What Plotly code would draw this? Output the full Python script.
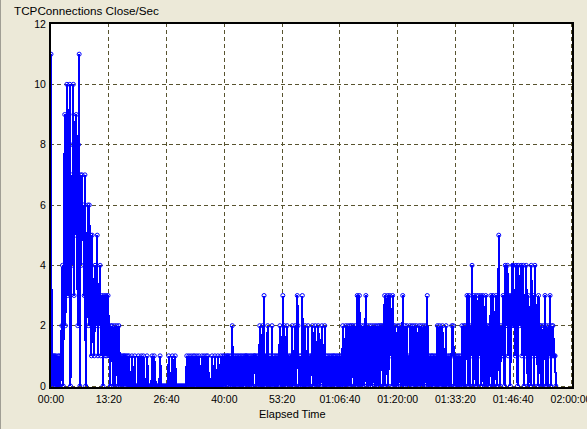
import plotly.graph_objects as go

# sample interval (seconds) between readings
INTERVAL = 10

# TCPConnections Close/Sec readings, one list per 13:20 block (80 readings each)
seg_a = [11,
         0, 1, 0, 1, 1, 0, 1, 0, 0, 1, 0, 1, 0, 1,
         2, 4, 0, 3, 9, 2, 5, 10, 3, 6, 9, 10, 0, 7, 4, 8, 10, 3, 8, 5,
         9, 6, 2, 8, 11, 0, 7, 4, 7, 5, 6, 3, 7, 0, 5, 4, 6, 2, 6, 4, 5,
         1, 5, 2, 3, 1, 4, 2, 3, 5, 1, 3, 2, 4, 1, 3, 2, 0, 3, 2, 1, 3, 1, 2, 3]
seg_b = [2, 1, 0, 2, 1, 2, 0, 1, 2, 0, 1, 2, 1, 0, 2, 1, 0,
         1, 0, 1, 0, 1, 1, 0, 1, 0, 1, 0, 1, 0,
         0, 0, 1, 0, 0, 0, 1, 0, 0, 0, 0, 1, 0, 0, 0, 1, 0, 0, 1, 0,
         0, 0, 0, 1, 0, 0, 0, 0, 0, 0, 1, 0, 0, 1, 0, 0, 0, 0, 0, 0,
         0, 1, 0, 0, 0, 0, 0, 0, 0, 0]
seg_c = [0, 0, 0, 1, 0, 0, 0, 0, 1, 0, 0, 0, 1, 0,
         0, 0, 0, 0, 0, 0, 0, 0, 0, 0, 0, 0, 0, 0,
         1, 0, 0, 1, 0, 0, 1, 0, 0, 1, 0, 1, 0, 0, 1, 0, 0, 1, 0, 0,
         0, 1, 0, 0, 1, 0, 0, 1, 0, 1, 0, 0, 0, 0, 0, 1, 0, 0, 0, 1,
         0, 0, 0, 1, 0, 0, 0, 1, 0, 0, 1, 0]
seg_d = [1, 0, 1, 0, 1, 1, 0, 1, 0, 1, 0, 2, 0, 1, 0, 1, 0, 1, 0, 1,
         0, 1, 0, 1, 0, 1, 0, 1, 0, 1, 1, 1, 0, 1, 0, 1, 0, 1, 0, 1,
         0, 1, 1, 1, 0, 1, 0, 1, 0, 2, 0, 1, 0, 2, 0, 3, 0, 1, 0, 1,
         2, 0, 1, 0, 1, 0, 2, 0, 1, 0, 1, 0, 1, 0, 1, 0, 1, 2, 0, 1]
seg_e = [0, 3, 0, 2, 1, 0, 1, 2, 0, 1, 0, 1, 0, 1, 2, 0, 1, 0, 2, 0,
         1, 3, 2, 0, 1, 0, 1, 0, 3, 0, 1, 0, 2, 0, 1, 0, 2, 0, 1, 0,
         1, 1, 2, 0, 1, 0, 2, 0, 1, 0, 2, 1, 1, 0, 1, 2, 0, 1, 0, 2,
         0, 1, 0, 1, 0, 1, 0, 1, 0, 1, 0, 1, 1, 0, 1, 0, 1, 0, 1, 0]
seg_f = [1, 0, 1, 0, 2, 0, 1, 0, 2, 1, 0, 2, 0, 1, 2, 0, 2, 1, 2, 0,
         1, 2, 0, 1, 3, 0, 2, 3, 0, 1, 2, 0, 1, 2, 0, 1, 3, 0, 2, 1,
         0, 2, 1, 0, 2, 0, 1, 2, 0, 1, 2, 0, 1, 2, 0, 2, 0, 2, 1, 2,
         0, 2, 3, 0, 2, 1, 3, 0, 2, 3, 1, 2, 0, 3, 2, 0, 2, 1, 0, 1]
seg_g = [2, 0, 1, 2, 0, 1, 0, 3, 1, 0, 2, 0, 1, 2, 0, 1, 0, 2, 1, 0,
         2, 0, 1, 2, 0, 1, 2, 0, 1, 0, 2, 1, 0, 2, 0, 1, 2, 0, 1, 2,
         0, 3, 0, 1, 0, 1, 0, 1, 1, 0, 1, 0, 1, 0, 1, 2, 0, 1, 2, 0,
         1, 0, 2, 0, 1, 0, 1, 2, 0, 1, 0, 1, 0, 1, 0, 2, 1, 2, 0, 1]
seg_h = [0, 1, 0, 1, 0, 1, 0, 1, 0, 2, 0, 1, 2, 0, 2, 1, 3, 0, 2, 3,
         0, 2, 1, 4, 0, 2, 3, 1, 0, 3, 2, 0, 3, 1, 2, 3, 0, 2, 3, 1,
         0, 2, 3, 0, 2, 1, 2, 0, 2, 3, 1, 0, 3, 2, 0, 2, 3, 1, 0, 2,
         5, 1, 0, 2, 1, 1, 3, 2, 0, 4, 2, 3, 4, 1, 3, 2, 0, 3, 2, 4]
seg_i = [4, 2, 3, 1, 4, 2, 0, 4, 3, 2, 3, 4, 1, 2, 4, 0, 2, 1, 4, 2,
         0, 3, 1, 2, 0, 4, 2, 1, 3, 0, 4, 2, 1, 2, 0, 3, 1, 2, 0, 2,
         1, 0, 2, 1, 3, 0, 2, 1, 0, 2, 1, 3, 0, 2, 1, 2, 1, 1, 1, 0]

values = seg_a + seg_b + seg_c + seg_d + seg_e + seg_f + seg_g + seg_h + seg_i
seconds = [INTERVAL * k for k in range(len(values))]

x_tick_vals = [0, 800, 1600, 2400, 3200, 4000, 4800, 5600, 6400, 7200]
x_tick_text = ["00:00", "13:20", "26:40", "40:00", "53:20", "01:06:40",
               "01:20:00", "01:33:20", "01:46:40", "02:00:00"]
y_tick_vals = [0, 2, 4, 6, 8, 10, 12]

title_text = "TCPConnections Close/Sec"
x_title = "Elapsed Time"

W, H = 587, 429
ML, MR, MT, MB = 50, 14, 23, 41
PW, PH = W - ML - MR, H - MT - MB

def px_x(p):
    return (p - ML) / PW

def px_y(p):
    return (H - MB - p) / PH

BG = "#ECE9D8"
GRID = "#58532F"
FONT = "Liberation Sans, Arial, sans-serif"

fig = go.Figure()
fig.add_trace(go.Scatter(
    x=seconds, y=values, mode="lines+markers",
    line=dict(color="#0000FF", width=2),
    marker=dict(symbol="circle-open", size=4, color="#0000FF", line=dict(width=1, color="#0000FF")),
    hoverinfo="skip", showlegend=False,
))

axis_common = dict(
    showgrid=True, gridcolor=GRID, gridwidth=1, griddash="4px,3px",
    zeroline=False, showline=False, ticks="outside", ticklen=1,
    tickcolor="rgba(0,0,0,0)", tickfont=dict(family=FONT, size=10.5, color="#000000"),
    automargin=False, ticklabeloverflow="allow",
)

fig.update_layout(
    width=W, height=H,
    margin=dict(l=ML, r=MR, t=MT, b=MB, pad=0, autoexpand=False),
    paper_bgcolor=BG, plot_bgcolor="#FFFFFF",
    xaxis=dict(range=[-13.85, 7227.7], tickmode="array", tickvals=x_tick_vals,
               ticktext=x_tick_text, **axis_common),
    yaxis=dict(range=[-0.066, 12.033], tickmode="array", tickvals=y_tick_vals,
               ticktext=[str(v) for v in y_tick_vals], **axis_common),
    font=dict(family=FONT, color="#000000"),
    shapes=[
        dict(type="rect", xref="paper", yref="paper", x0=0, x1=1, y0=0, y1=1,
             line=dict(color="#000000", width=2), fillcolor="rgba(0,0,0,0)", layer="above"),
        dict(type="line", xref="paper", yref="paper", x0=px_x(0.5), x1=px_x(0.5),
             y0=px_y(0), y1=px_y(H), line=dict(color="#A09E94", width=1)),
    ],
    annotations=[
        dict(text=title_text, xref="paper", yref="paper", x=px_x(12), y=px_y(11),
             xanchor="left", yanchor="middle", showarrow=False,
             font=dict(family=FONT, size=11.7, color="#000000")),
        dict(text=x_title, xref="paper", yref="paper", x=px_x(292.5), y=px_y(414),
             xanchor="center", yanchor="middle", showarrow=False,
             font=dict(family=FONT, size=11, color="#000000")),
    ],
)

post = """
document.body.style.margin = '0px';
document.body.style.overflow = 'hidden';
document.body.style.background = '%s';
document.querySelectorAll('.scatterlayer .js-line').forEach(function (e) {
    e.setAttribute('shape-rendering', 'crispEdges');
});
""" % BG

fig.write_html("out.html", post_script=post, config={"displayModeBar": False})
